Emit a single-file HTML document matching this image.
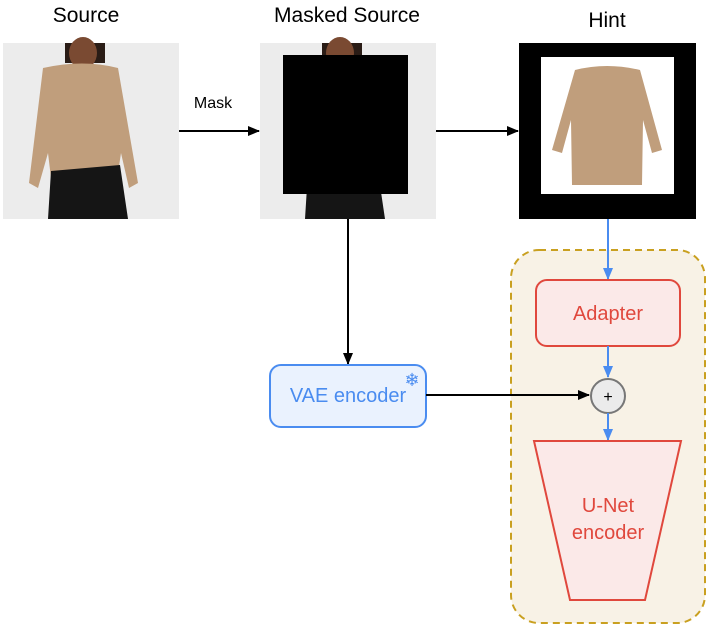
<!DOCTYPE html>
<html><head><style>
body{margin:0;background:#fff;width:710px;height:629px;overflow:hidden}
text{font-family:"Liberation Sans",sans-serif}
</style></head><body>
<svg width="710" height="629" viewBox="0 0 710 629" xmlns="http://www.w3.org/2000/svg">
<defs>
<marker id="ab" markerWidth="12" markerHeight="12" refX="11" refY="6" orient="auto" markerUnits="userSpaceOnUse"><path d="M0,1 L12,6 L0,11 z" fill="#000"/></marker>
<marker id="au" markerWidth="12" markerHeight="12" refX="11" refY="6" orient="auto" markerUnits="userSpaceOnUse"><path d="M0,1 L12,6 L0,11 z" fill="#4a8cf0"/></marker>
<g id="person">
<rect x="0" y="0" width="176" height="176" fill="#ececec"/>
<rect x="62" y="0" width="40" height="20" fill="#2a1c16"/>
<ellipse cx="80" cy="10" rx="14" ry="16" fill="#7a4a32"/>
<path d="M40,25 Q80,16 115,25 L135,140 L126,145 L118,110 L115,130 L48,135 L45,110 L35,145 L26,140 Z" fill="#c09e7c"/>
<path d="M48,128 L117,122 L125,176 L45,176 Z" fill="#151515"/>
</g>
</defs>
<text x="86" y="22" font-size="21" text-anchor="middle">Source</text>
<text x="347" y="22" font-size="21" text-anchor="middle">Masked Source</text>
<text x="607" y="27" font-size="21" text-anchor="middle">Hint</text>
<use href="#person" x="3" y="43"/>
<use href="#person" x="260" y="43"/>
<rect x="283" y="55" width="125" height="139" fill="#000"/>
<rect x="519" y="43" width="177" height="176" fill="#000"/>
<rect x="541" y="57" width="133" height="137" fill="#fff"/>
<path d="M575,70 Q607,62 640,70 L662,150 L652,153 L643,120 L642,185 L572,185 L571,120 L562,153 L552,150 Z" fill="#c09e7c"/>
<text x="213" y="108" font-size="16" text-anchor="middle">Mask</text>
<line x1="179" y1="131" x2="259" y2="131" stroke="#000" stroke-width="2" marker-end="url(#ab)"/>
<line x1="436" y1="131" x2="518" y2="131" stroke="#000" stroke-width="2" marker-end="url(#ab)"/>
<line x1="348" y1="219" x2="348" y2="364" stroke="#000" stroke-width="2" marker-end="url(#ab)"/>
<rect x="511" y="250" width="194" height="373" rx="28" fill="#f8f2e6" stroke="#c9a020" stroke-width="2" stroke-dasharray="7,5"/>
<line x1="608" y1="219" x2="608" y2="279" stroke="#4a8cf0" stroke-width="2" marker-end="url(#au)"/>
<rect x="536" y="280" width="144" height="66" rx="11" fill="#fbe9e8" stroke="#e0483d" stroke-width="2"/>
<text x="608" y="320" font-size="20" fill="#e0483d" text-anchor="middle">Adapter</text>
<line x1="608" y1="346" x2="608" y2="377" stroke="#4a8cf0" stroke-width="2" marker-end="url(#au)"/>
<rect x="270" y="365" width="156" height="62" rx="11" fill="#eaf2fe" stroke="#4a8cf0" stroke-width="2"/>
<text x="348" y="402" font-size="20" fill="#4a8cf0" text-anchor="middle">VAE encoder</text>
<text x="412" y="386" font-size="18" fill="#4a8cf0" text-anchor="middle">❄</text>
<line x1="426" y1="395" x2="589" y2="395" stroke="#000" stroke-width="2" marker-end="url(#ab)"/>
<circle cx="608" cy="396" r="17" fill="#ebebeb" stroke="#777" stroke-width="2"/>
<text x="608" y="402" font-size="16" text-anchor="middle">+</text>
<line x1="608" y1="413" x2="608" y2="440" stroke="#4a8cf0" stroke-width="2" marker-end="url(#au)"/>
<polygon points="534,441 681,441 645,600 570,600" fill="#fbe9e8" stroke="#e0483d" stroke-width="2"/>
<text x="608" y="512" font-size="20" fill="#e0483d" text-anchor="middle">U-Net</text>
<text x="608" y="539" font-size="20" fill="#e0483d" text-anchor="middle">encoder</text>
</svg>
</body></html>
